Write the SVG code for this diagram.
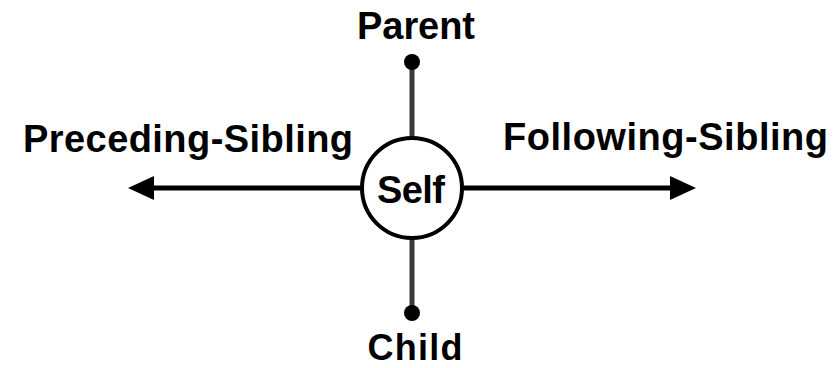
<svg xmlns="http://www.w3.org/2000/svg" width="839" height="368" viewBox="0 0 839 368">
<style>
text{font-family:"Liberation Sans",Arial,sans-serif;font-weight:bold;font-size:38px;fill:#000}
.v{stroke:#3a3a3a;stroke-width:5}
.h{stroke:#000;stroke-width:5}
.dot{fill:#000}
.ah{fill:#000}
</style>
<rect width="839" height="368" fill="#fff"/>
<g id="connectors">
<line class="v" x1="412" y1="62" x2="412" y2="138"/>
<line class="v" x1="412" y1="239" x2="412" y2="313"/>
<circle class="dot" cx="412" cy="62" r="8"/>
<circle class="dot" cx="412" cy="313" r="8"/>
<line class="h" x1="150" y1="188" x2="362" y2="188"/>
<polygon class="ah" points="128,188 154,176 154,200"/>
<line class="h" x1="463" y1="188" x2="674" y2="188"/>
<polygon class="ah" points="696,188 670,176 670,200"/>
</g>
<g id="self">
<circle cx="412" cy="188" r="50" fill="#fff" stroke="#000" stroke-width="4"/>
<text x="411" y="203" text-anchor="middle" textLength="68">Self</text>
</g>
<g id="parent"><text x="416" y="39" text-anchor="middle" textLength="118">Parent</text></g>
<g id="child"><text x="415" y="360" text-anchor="middle" textLength="95" style="font-size:36px">Child</text></g>
<g id="preceding-sibling"><text x="23" y="152" textLength="330">Preceding-Sibling</text></g>
<g id="following-sibling"><text x="503" y="150" textLength="325">Following-Sibling</text></g>
</svg>
